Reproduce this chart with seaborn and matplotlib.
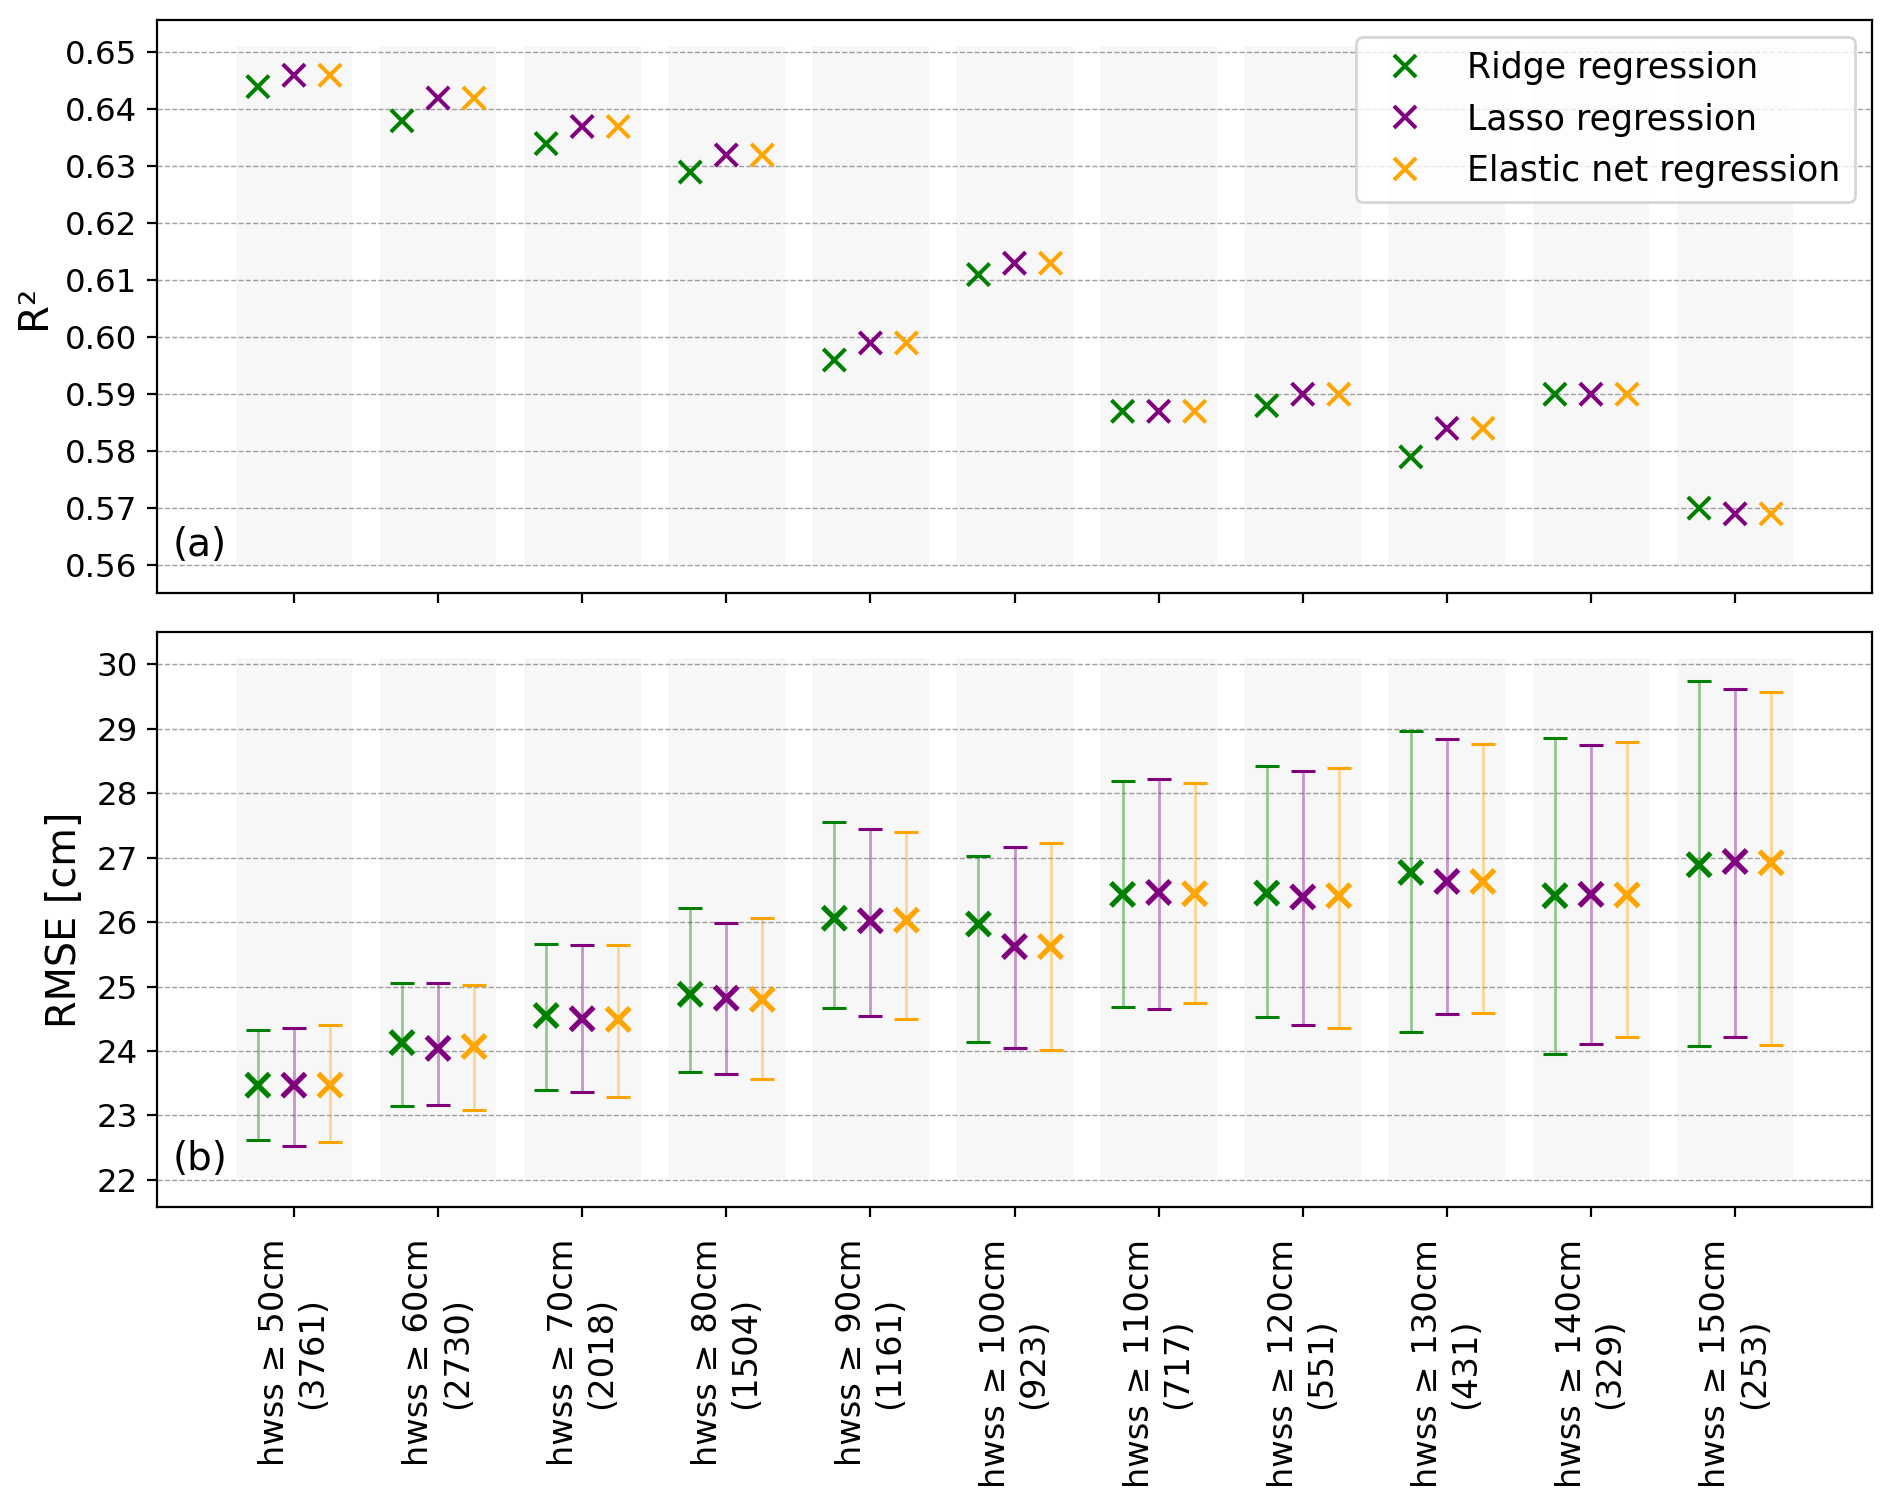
import numpy as np
import pandas as pd
import matplotlib
matplotlib.use("Agg")
import matplotlib.pyplot as plt
import seaborn as sns

# ---------------- data ----------------
categories = ["hwss ≥ 50cm\n(3761)", "hwss ≥ 60cm\n(2730)", "hwss ≥ 70cm\n(2018)",
              "hwss ≥ 80cm\n(1504)", "hwss ≥ 90cm\n(1161)", "hwss ≥ 100cm\n(923)",
              "hwss ≥ 110cm\n(717)", "hwss ≥ 120cm\n(551)", "hwss ≥ 130cm\n(431)",
              "hwss ≥ 140cm\n(329)", "hwss ≥ 150cm\n(253)"]
models = ["Ridge regression", "Lasso regression", "Elastic net regression"]

r2_ridge = [0.644, 0.638, 0.634, 0.629, 0.596, 0.611, 0.587, 0.588, 0.579, 0.590, 0.570]
r2_lasso = [0.646, 0.642, 0.637, 0.632, 0.599, 0.613, 0.587, 0.590, 0.584, 0.590, 0.569]
r2_enet = [0.646, 0.642, 0.637, 0.632, 0.599, 0.613, 0.587, 0.590, 0.584, 0.590, 0.569]

rmse_ridge = [23.47, 24.13, 24.55, 24.88, 26.06, 25.97, 26.43, 26.45, 26.77, 26.41, 26.89]
rmse_lasso = [23.47, 24.04, 24.50, 24.82, 26.02, 25.62, 26.46, 26.39, 26.63, 26.43, 26.94]
rmse_enet = [23.47, 24.07, 24.49, 24.80, 26.03, 25.62, 26.44, 26.41, 26.63, 26.42, 26.92]

rmse_ridge_hi = [24.33, 25.06, 25.66, 26.22, 27.55, 27.03, 28.19, 28.42, 28.97, 28.86, 29.74]
rmse_ridge_lo = [22.62, 23.15, 23.39, 23.68, 24.66, 24.14, 24.68, 24.52, 24.29, 23.95, 24.07]
rmse_lasso_hi = [24.36, 25.06, 25.64, 25.98, 27.44, 27.17, 28.22, 28.34, 28.84, 28.75, 29.61]
rmse_lasso_lo = [22.52, 23.17, 23.36, 23.64, 24.54, 24.05, 24.65, 24.40, 24.58, 24.11, 24.21]
rmse_enet_hi = [24.41, 25.03, 25.64, 26.06, 27.40, 27.23, 28.16, 28.39, 28.77, 28.79, 29.57]
rmse_enet_lo = [22.59, 23.08, 23.29, 23.56, 24.50, 24.02, 24.74, 24.35, 24.59, 24.21, 24.10]

colors = {"Ridge regression": "green", "Lasso regression": "purple",
          "Elastic net regression": "orange"}

# ---------------- table ----------------
offsets = {"Ridge regression": -0.25, "Lasso regression": 0.0, "Elastic net regression": 0.25}
series = {
    "Ridge regression": (r2_ridge, rmse_ridge, rmse_ridge_lo, rmse_ridge_hi),
    "Lasso regression": (r2_lasso, rmse_lasso, rmse_lasso_lo, rmse_lasso_hi),
    "Elastic net regression": (r2_enet, rmse_enet, rmse_enet_lo, rmse_enet_hi),
}
rows = []
for m in models:
    r2, rm, lo, hi = series[m]
    for i in range(len(categories)):
        rows.append(dict(model=m, idx=i, x=i + offsets[m], r2=r2[i], rmse=rm[i],
                         lo=lo[i], hi=hi[i]))
df = pd.DataFrame(rows)

# ---------------- figure ----------------
W, H, DPI = 1892, 1507, 200
fig = plt.figure(figsize=(W / DPI, H / DPI), dpi=DPI)
ax1 = fig.add_axes([157 / W, 1 - 593 / H, (1872 - 157) / W, (593 - 20) / H])
ax2 = fig.add_axes([157 / W, 1 - 1207 / H, (1872 - 157) / W, (1207 - 632) / H], sharex=ax1)

n = len(categories)
for ax in (ax1, ax2):
    for i in range(n):
        ax.axvspan(i - 0.405, i + 0.405, ymin=0.05, ymax=0.955,
                   facecolor="lightgray", alpha=0.16, lw=0, zorder=0)
    ax.set_axisbelow(True)
    ax.yaxis.grid(True, linestyle="--", color="gray", alpha=0.75, linewidth=0.5)
    ax.tick_params(axis="y", labelsize=11.7)

# top: R2
sns.scatterplot(data=df, x="x", y="r2", hue="model", hue_order=models, palette=colors,
                marker="x", s=64, linewidth=1.45, ax=ax1, legend=True, zorder=3)
ax1.set_ylim(0.5551, 0.6557)
ax1.set_yticks(np.arange(0.56, 0.6501, 0.01))
ax1.set_yticklabels([f"{v:.2f}" for v in np.arange(0.56, 0.6501, 0.01)])
ax1.set_ylabel("R²", fontsize=14.5)
ax1.set_xlabel("")
ax1.tick_params(axis="x", labelbottom=False)
handles, labels = ax1.get_legend_handles_labels()
ax1.legend(handles, labels, loc="upper right", fontsize=12.5, framealpha=0.8)
ax1.text(0.009, 0.05, "(a)", transform=ax1.transAxes, fontsize=14, va="bottom", ha="left")

# bottom: RMSE with error bars
for m in models:
    d = df[df.model == m]
    eb = ax2.errorbar(d["x"], d["rmse"], yerr=[d["rmse"] - d["lo"], d["hi"] - d["rmse"]],
                      fmt="none", ecolor=colors[m], elinewidth=1.0, capsize=4.2,
                      capthick=1.1, zorder=2)
    for lc in eb[2]:
        lc.set_alpha(0.4)
sns.scatterplot(data=df, x="x", y="rmse", hue="model", hue_order=models, palette=colors,
                marker="x", s=70, linewidth=1.9, ax=ax2, legend=False, zorder=3)
ax2.set_ylim(21.58, 30.50)
ax2.set_yticks(range(22, 31))
ax2.set_ylabel("RMSE [cm]", fontsize=14.3)
ax2.set_xlabel("")
ax2.text(0.009, 0.05, "(b)", transform=ax2.transAxes, fontsize=14, va="bottom", ha="left")

ax2.set_xlim(-0.95, 10.95)
ax2.set_xticks(range(n))
ax2.set_xticklabels(categories, rotation=90, fontsize=12.1, multialignment="center")
ax2.tick_params(axis="x", pad=8)

fig.savefig("out.png", dpi=DPI)
